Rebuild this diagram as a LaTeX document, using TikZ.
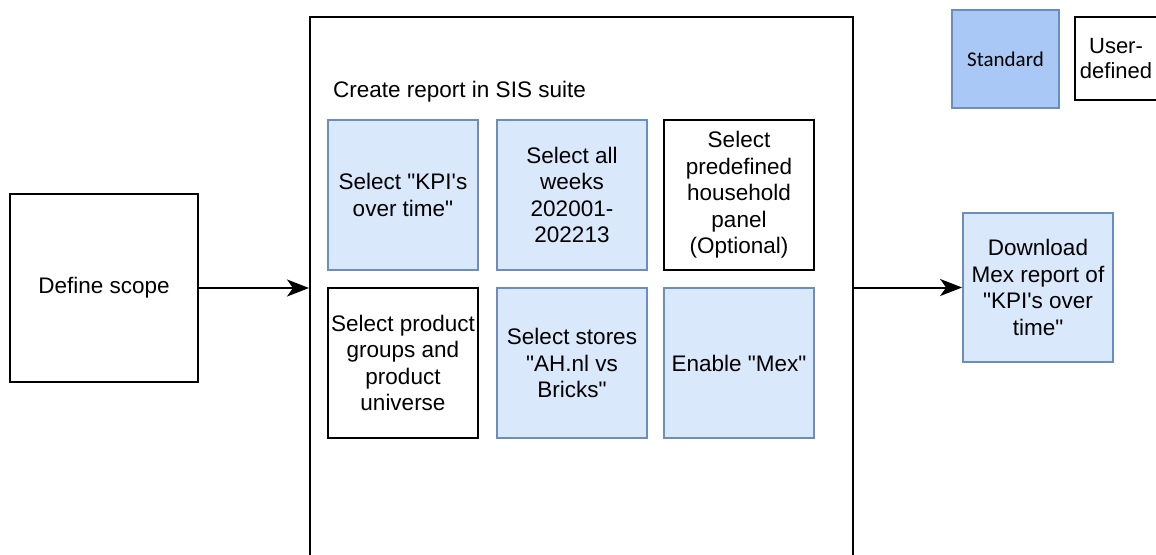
\documentclass[tikz,border=0pt]{standalone}
\usepackage{fontspec}
\newfontfamily\arialf{Liberation Sans}
\newfontfamily\calibf{Carlito}
\usetikzlibrary{arrows.meta}
\definecolor{stdfill}{HTML}{DAE8FC}
\definecolor{stdline}{HTML}{6C8EBF}
\definecolor{legfill}{HTML}{A9C8F5}
\tikzset{
  base/.style={align=center, inner sep=2pt, font=\arialf\fontsize{22.5}{26.5}\selectfont},
  userbox/.style={base, draw=black, fill=white, line width=2pt},
  stdbox/.style={base, draw=stdline, fill=stdfill, line width=1.8pt},
  cell/.style={minimum width=150pt, minimum height=150pt},
  arr/.style={line width=2pt, -{Stealth[length=22pt,width=17pt,inset=6pt]}}
}
\begin{document}
\begin{tikzpicture}[x=1pt,y=-1pt]
\useasboundingbox (0,0) rectangle (1156,554);
\clip (0,0) rectangle (1156,554);
% outer container
\node[draw=black, line width=2pt, minimum width=543pt, minimum height=600pt, anchor=north west, inner sep=0pt] (suite) at (309,16) {};
\node[base, anchor=west, inner sep=0pt] (title) at (333,92) {Create report in SIS suite};
% scope
\node[userbox, minimum width=188pt, minimum height=188pt] (scope) at (104,288) {Define scope};
% cells
\node[stdbox, cell] (kpi) at (403,195) {Select "KPI's\\over time"};
\node[stdbox, cell] (weeks) at (572,195) {Select all\\weeks\\202001-\\202213};
\node[userbox, cell] (panel) at (739,195) {Select\\predefined\\household\\panel\\(Optional)};
\node[userbox, cell] (prod) at (403,363) {Select product\\groups and\\product\\universe};
\node[stdbox, cell] (stores) at (572,363) {Select stores\\"AH.nl vs\\Bricks"};
\node[stdbox, cell] (mex) at (739,363) {Enable "Mex"};
% download
\node[stdbox, minimum width=150pt, minimum height=149pt] (dl) at (1038,287.5) {Download\\Mex report of\\"KPI's over\\time"};
% legend
\node[base, draw=stdline, fill=legfill, line width=1.8pt, minimum width=107pt, minimum height=98pt, font=\calibf\fontsize{21}{25}\selectfont] (leg1) at (1005.5,59) {Standard};
\node[userbox, minimum width=82pt, minimum height=83pt, font=\arialf\fontsize{22}{25}\selectfont] (leg2) at (1116,58.5) {User-\\defined};
% arrows
\draw[arr] (scope.east) -- (scope.east -| suite.west);
\draw[arr] (suite.east |- dl.west) -- (dl.west);
\end{tikzpicture}
\end{document}
